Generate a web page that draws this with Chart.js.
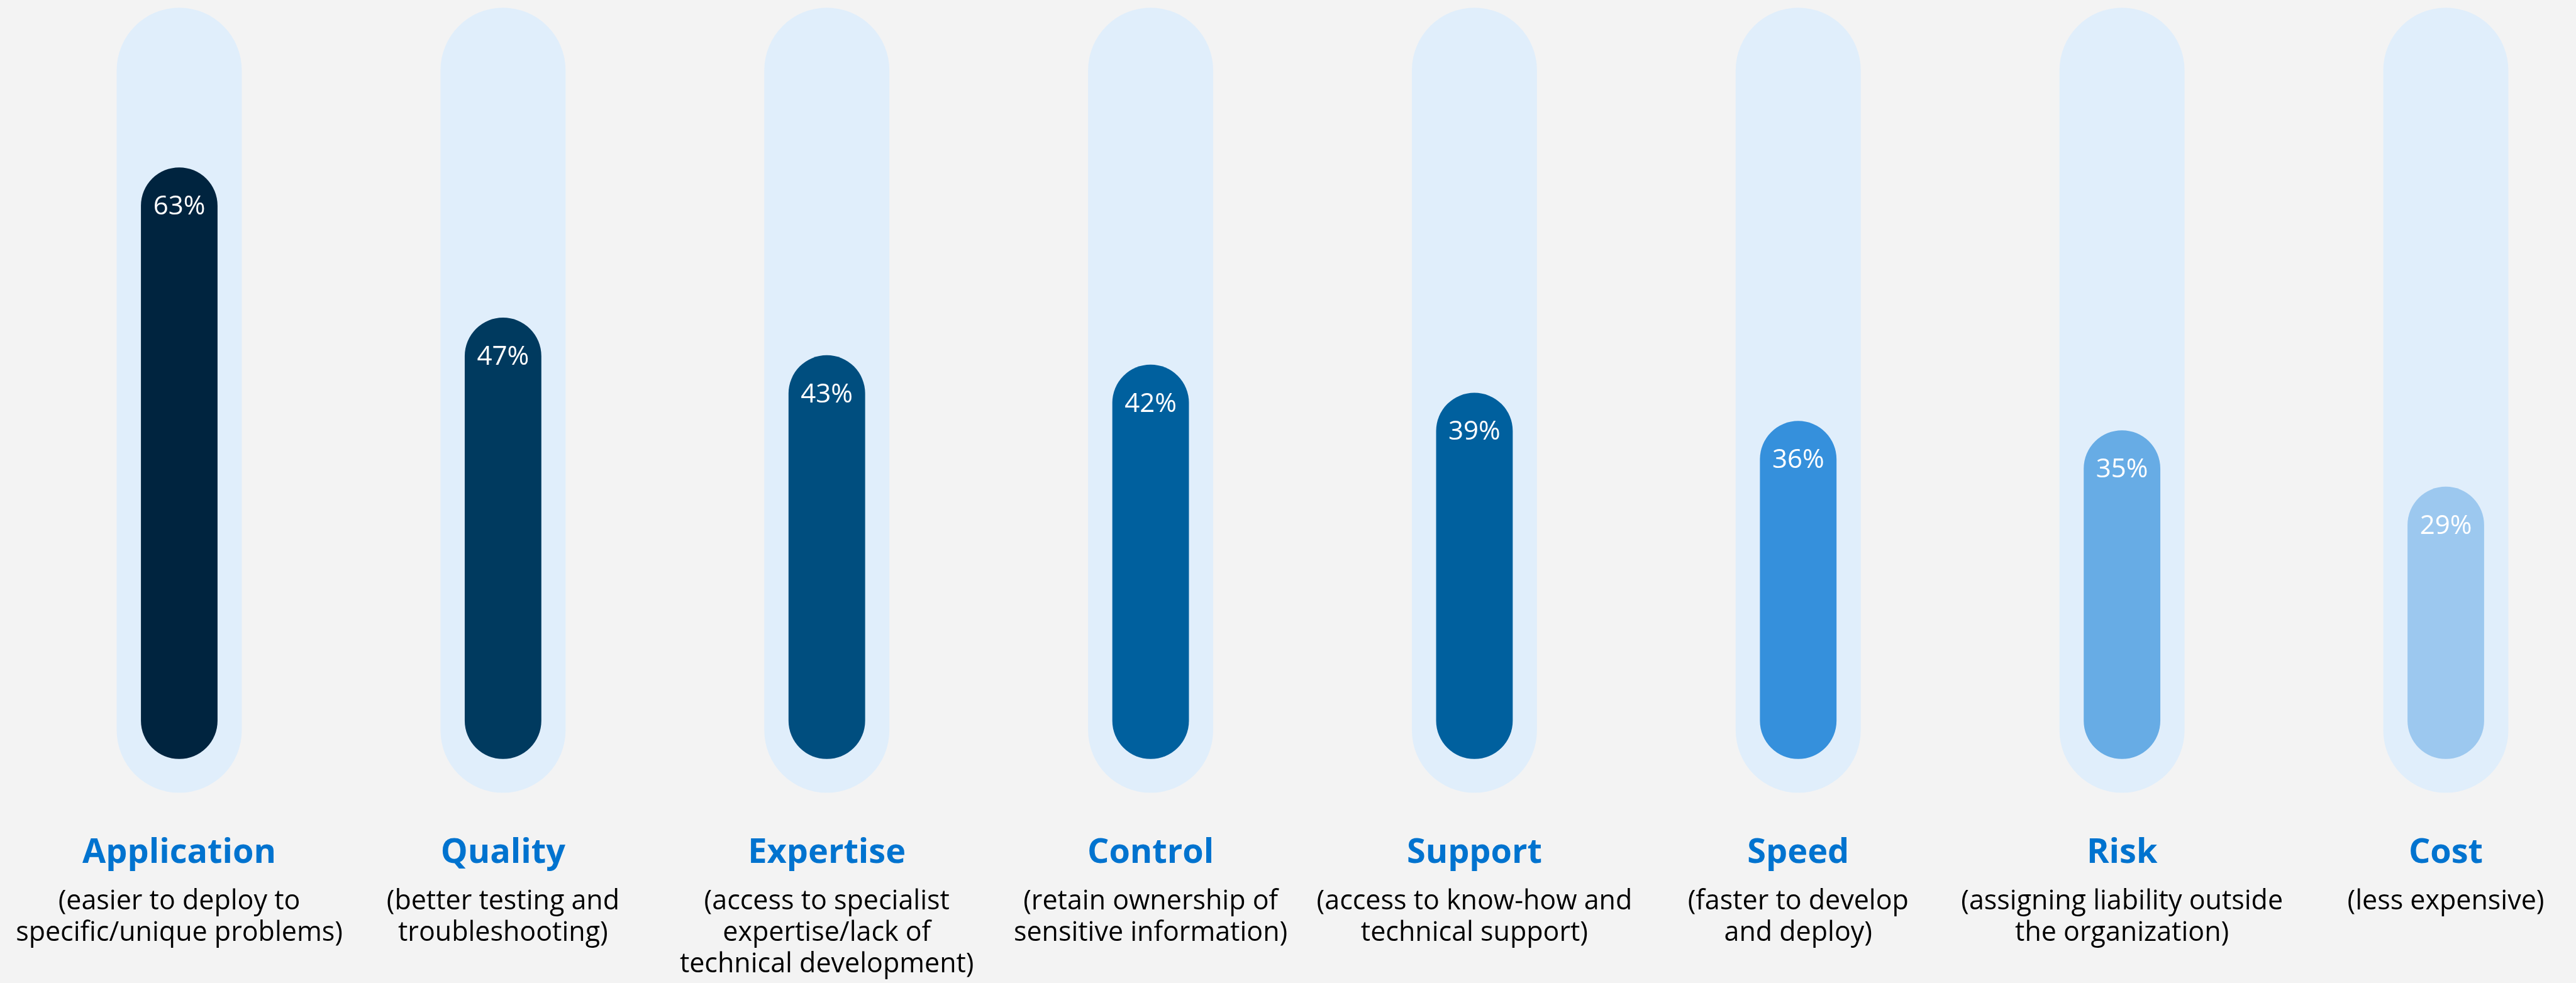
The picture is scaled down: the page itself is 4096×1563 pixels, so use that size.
<!DOCTYPE html>
<html>
<head>
<meta charset="utf-8">
<title>Reasons for choosing a provider</title>
<script src="https://cdn.jsdelivr.net/npm/chart.js@4.4.1/dist/chart.umd.min.js"></script>
<style>
  html, body { margin: 0; padding: 0; background: #F3F3F3; }
  #wrap { width: 4096px; height: 1563px; position: relative; }
</style>
</head>
<body>
<div id="wrap"><canvas id="chart"></canvas></div>
<script>
// Survey categories, their explanations and the share of respondents (%)
const categories = ['Application', 'Quality', 'Expertise', 'Control', 'Support', 'Speed', 'Risk', 'Cost'];
const descriptions = [
  ['(easier to deploy to', 'specific/unique problems)'],
  ['(better testing and', 'troubleshooting)'],
  ['(access to specialist', 'expertise/lack of', 'technical development)'],
  ['(retain ownership of', 'sensitive information)'],
  ['(access to know-how and', 'technical support)'],
  ['(faster to develop', 'and deploy)'],
  ['(assigning liability outside', 'the organization)'],
  ['(less expensive)']
];
const shares = [63, 47, 43, 42, 39, 36, 35, 29];
const barColors = ['#00243F', '#003A5F', '#004E7F', '#00609E', '#00609E', '#3590DC', '#67ACE5', '#9CC8EF'];

// Pale track behind every bar, in value units
const trackRange = [-3.6, 80];

const FONT = '"Open Sans", "Noto Sans", sans-serif';

// White percentage written just inside the top of each bar
const valueLabels = {
  id: 'valueLabels',
  afterDatasetsDraw(chart) {
    const meta = chart.getDatasetMeta(0);
    const ctx = chart.ctx;
    ctx.save();
    ctx.font = '400 42px ' + FONT;
    ctx.fillStyle = '#FFFFFF';
    ctx.textAlign = 'center';
    ctx.textBaseline = 'middle';
    meta.data.forEach((bar, i) => {
      ctx.fillText(shares[i] + '%', bar.x, bar.y + 63);
    });
    ctx.restore();
  }
};

new Chart(document.getElementById('chart'), {
  type: 'bar',
  data: {
    labels: categories,
    datasets: [
      {
        label: 'Share',
        data: shares,
        backgroundColor: barColors,
        borderSkipped: false,
        borderRadius: 1000,
        grouped: false,
        clip: false,
        categoryPercentage: 1,
        barPercentage: 0.2366,
        order: 1
      },
      {
        label: 'Track',
        data: categories.map(() => trackRange.slice()),
        backgroundColor: '#E0EEFB',
        borderSkipped: false,
        borderRadius: 1000,
        grouped: false,
        clip: false,
        categoryPercentage: 1,
        barPercentage: 0.3864,
        order: 2
      }
    ]
  },
  options: {
    responsive: true,
    maintainAspectRatio: false,
    devicePixelRatio: 1,
    animation: false,
    events: [],
    layout: { padding: { left: 285, right: 207, top: 12.3, bottom: 0 } },
    plugins: {
      legend: { display: false },
      title: { display: false },
      tooltip: { enabled: false }
    },
    scales: {
      x: {
        type: 'category',
        position: 'bottom',
        offset: false,
        grid: { display: false, drawTicks: false },
        border: { display: false },
        ticks: {
          autoSkip: false,
          maxRotation: 0,
          minRotation: 0,
          padding: 64,
          color: '#0073CF',
          font: { family: FONT, size: 54, weight: '700', lineHeight: 1.2 }
        },
        afterFit(scale) { scale.height = 130; }
      },
      x2: {
        type: 'category',
        position: 'bottom',
        labels: descriptions,
        offset: false,
        grid: { display: false, drawTicks: false },
        border: { display: false },
        ticks: {
          autoSkip: false,
          maxRotation: 0,
          minRotation: 0,
          padding: 18,
          color: '#000000',
          font: { family: FONT, size: 43, weight: '400', lineHeight: 50 / 43 }
        },
        afterFit(scale) { scale.height = 172.4; }
      },
      y: {
        display: false,
        min: trackRange[0],
        max: trackRange[1]
      }
    }
  },
  plugins: [valueLabels]
});
</script>
</body>
</html>
